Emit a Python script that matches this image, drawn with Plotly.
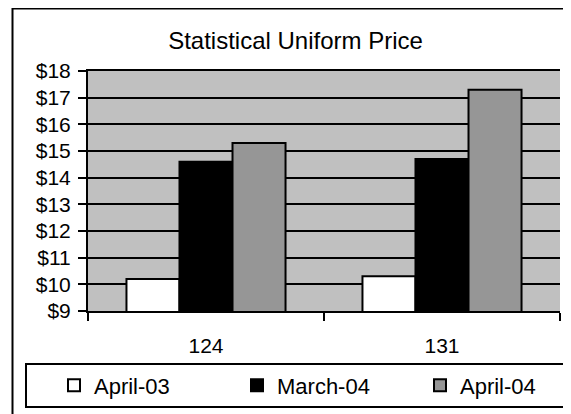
import plotly.graph_objects as go

# ---- data ----
categories = ["124", "131"]
series_names = ["April-03", "March-04", "April-04"]
april_03 = [10.2, 10.3]
march_04 = [14.6, 14.7]
april_04 = [15.3, 17.3]
series_colors = ["#FFFFFF", "#000000", "#969696"]
y_tick_vals = [9, 10, 11, 12, 13, 14, 15, 16, 17, 18]
y_tick_text = ["$9", "$10", "$11", "$12", "$13", "$14", "$15", "$16", "$17", "$18"]

# ---- layout geometry ----
# The page body has an 8px margin, so the figure starts at (8, 8) in the window.
OFF = 8
W, H = 571 - OFF, 414 - OFF
# plot area in window pixels
L, R, T, B = 88, 560, 71, 311

def px_x(px):
    return (px - L) / (R - L)

def px_y(py):
    return (B - py) / (B - T)

FONT = "Liberation Sans, Arial, sans-serif"

fig = go.Figure()
for name, vals, col in zip(series_names, [april_03, march_04, april_04], series_colors):
    fig.add_trace(go.Bar(
        x=categories, y=vals, name=name,
        marker=dict(color=col, line=dict(color="#000000", width=2)),
    ))

fig.update_layout(
    width=W, height=H,
    margin=dict(l=L - OFF, r=(W + OFF) - R, t=T - OFF, b=(H + OFF) - B, pad=0, autoexpand=False),
    paper_bgcolor="#FFFFFF",
    plot_bgcolor="#C0C0C0",
    barmode="group",
    bargap=0.326,
    bargroupgap=0,
    font=dict(family=FONT, size=21, color="#000000"),
    title=dict(
        text="Statistical Uniform Price",
        font=dict(family=FONT, size=24, color="#000000"),
        xref="container", yref="container",
        x=(295.5 - OFF) / W, xanchor="center",
        y=1 - (41 - OFF) / H, yanchor="middle",
    ),
    xaxis=dict(
        type="category",
        range=[-0.5, 1.5],
        showgrid=False,
        showline=True, linecolor="#000000", linewidth=2,
        mirror=True,
        ticks="outside", tickson="boundaries", ticklen=8, tickwidth=2, tickcolor="#000000",
        tickfont=dict(family=FONT, size=21),
        ticklabelstandoff=15,
    ),
    yaxis=dict(
        range=[9, 18],
        tickvals=y_tick_vals, ticktext=y_tick_text,
        showgrid=True, gridcolor="#000000", gridwidth=2,
        showline=True, linecolor="#000000", linewidth=2,
        zeroline=False,
        ticks="outside", ticklen=8, tickwidth=2, tickcolor="#000000",
        tickfont=dict(family=FONT, size=21),
        ticklabelstandoff=3,
    ),
    showlegend=True,
    legend=dict(
        orientation="h",
        x=px_x(54), xanchor="left",
        y=px_y(385.5), yanchor="middle",
        bgcolor="rgba(0,0,0,0)", borderwidth=0,
        entrywidth=138, entrywidthmode="pixels",
        font=dict(family=FONT, size=22, color="#000000"),
        traceorder="normal",
    ),
    shapes=[
        # outer chart border (extends past right / bottom edge of the picture)
        dict(type="rect", xref="paper", yref="paper",
             x0=px_x(12.5), x1=px_x(590), y0=px_y(8.5), y1=px_y(425),
             line=dict(color="#000000", width=2), fillcolor="rgba(0,0,0,0)", layer="above"),
        # legend box
        dict(type="rect", xref="paper", yref="paper",
             x0=px_x(26), x1=px_x(590), y0=px_y(364), y1=px_y(407),
             line=dict(color="#000000", width=2), fillcolor="rgba(0,0,0,0)", layer="above"),
    ],
)

fig.write_html("out.html")
